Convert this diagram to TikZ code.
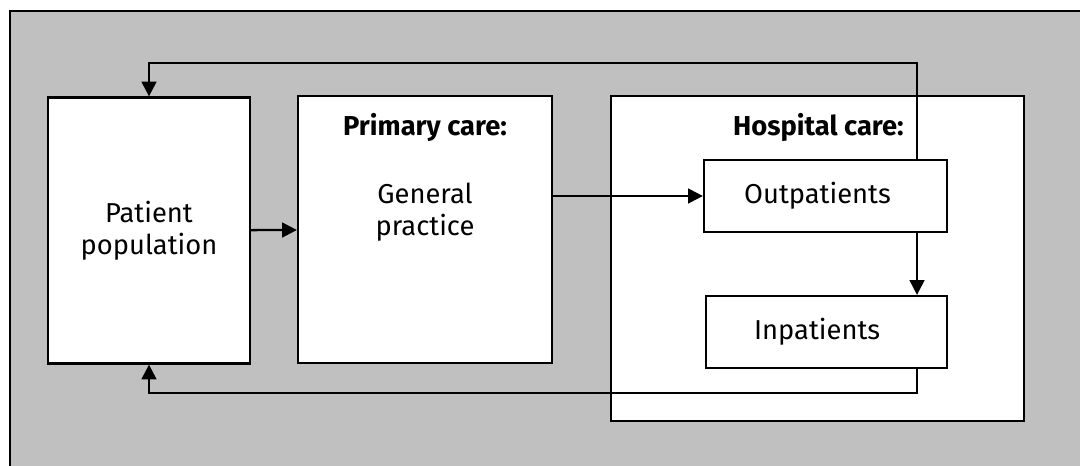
\documentclass[tikz,border=0pt]{standalone}
\usepackage{fontspec}
\setmainfont{Fira Sans}
\usetikzlibrary{positioning}
\usetikzlibrary{arrows.meta}
\definecolor{panel}{RGB}{192,192,192}

\begin{document}
\begin{tikzpicture}[x=0.75pt,y=-0.75pt,
	every node/.style={font=\fontsize{20.5}{24}\selectfont},
	box/.style={draw,fill=white,line width=1.7pt,align=center,inner sep=0},
	head/.style={font=\fontsize{20.5}{24}\selectfont\bfseries,inner sep=0},
	arr/.style={line width=1.7pt,-{Triangle[length=11pt,width=11pt]}}]
	\useasboundingbox (0,0) rectangle (1080,465);
	\fill[panel,draw=black,line width=1.3pt] (10,11) rectangle (1100,490);

	% sizes in pt (1 unit = 0.75pt)
	\node (pop) [box,minimum width=151.5pt,minimum height=199.5pt] at (149,230.5) {Patient\\population};
	\node (primary) [box,minimum width=190.5pt,minimum height=200.25pt] at (425,229.5) {};
	\node (hosp) [box,minimum width=309.75pt,minimum height=243.75pt] at (817.5,258.5) {};
	\node (out) [box,minimum width=182.25pt,minimum height=54pt,
		label={[xshift=-6pt]center:Outpatients}] at (825.5,196) {};
	\node (in) [box,minimum width=180.75pt,minimum height=54pt,
		label={[xshift=-7pt]center:Inpatients}] at (826.5,332) {};
	\node (gp) [align=center,inner sep=0] at (425,212) {General\\practice};
	\node (primhead) [head,anchor=base] at (425,135) {Primary care:};
	\node (hosphead) [head,anchor=base east] at (904,135) {Hospital care:};

	\coordinate (top) at (917,63);
	\coordinate (bot) at (917,393);
	\draw[arr] (pop) -- (primary);
	\draw[arr] (primary.east |- out) -- (out.west);
	\draw[arr] (out.south -| top) -- (in.north -| top);
	\draw[arr] (out.north -| top) -- (top) -- (top -| pop) -- (pop.north);
	\draw[arr] (in.south -| bot) -- (bot) -- (bot -| pop) -- (pop.south);
\end{tikzpicture}
\end{document}
